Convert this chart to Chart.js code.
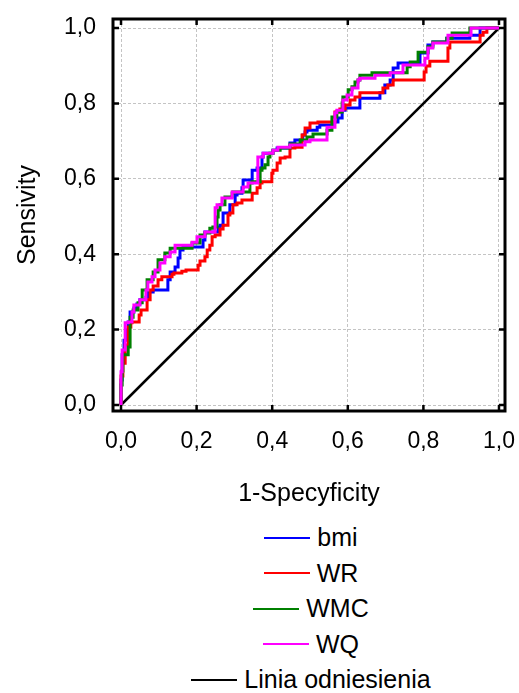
<!DOCTYPE html>
<html lang="pl">
<head>
  <meta charset="UTF-8" />
  <title>Krzywe ROC</title>
  <script src="https://cdn.jsdelivr.net/npm/chart.js"></script>
  <style>
    body { margin: 0; background: #fff; font-family: "Liberation Sans", Arial, sans-serif; }
    .wrap { position: relative; width: 519px; height: 693px; }
    #legenda { position: absolute; top: 520px; left: 111px; width: 400px; }
    .wiersz { height: 35.5px; display: flex; align-items: center; justify-content: center; font-size: 25px; color: #000; }
    .kreska { width: 46px; height: 2px; margin-right: 7px; }
  </style>
</head>
<body>
  <div class="wrap">
    <canvas id="roc" width="519" height="520"></canvas>
    <div id="legenda"></div>
  </div>

  <script>
    // wartości (1-specyficzność, czułość)
    const axisTicks = [0, 0.2, 0.4, 0.6, 0.8, 1.0];

    const bmiX = [0, .003, .008, .013, .019, .024, .034, .042, .050, .066, .071, .085, .098, .124, .130, .143, .151, .156, .164, .175, .217, .222, .257, .262, .270, .275, .288, .302, .307, .320, .323, .328, .347, .360, .373, .376, .402, .413, .447, .460, .481, .487, .492, .519, .526, .561, .574, .585, .593, .598, .632, .685, .698, .712, .720, .733, .746, .791, .812, .825, .862, .878, .923, .931, .950, .958, 1];
    const bmiY = [0, .066, .133, .172, .199, .220, .247, .257, .268, .279, .286, .300, .305, .305, .332, .353, .366, .390, .411, .419, .419, .438, .459, .472, .477, .509, .509, .531, .557, .562, .576, .597, .597, .623, .629, .658, .668, .676, .682, .695, .703, .716, .724, .729, .737, .743, .751, .761, .782, .788, .788, .814, .828, .849, .862, .894, .907, .907, .934, .955, .963, .973, .973, .981, .981, 1, 1];

    const wrX = [0, .005, .011, .019, .026, .029, .048, .053, .069, .077, .085, .098, .108, .135, .140, .161, .172, .204, .209, .222, .228, .235, .241, .249, .262, .270, .283, .288, .296, .307, .320, .347, .360, .368, .373, .399, .402, .413, .421, .434, .447, .460, .479, .487, .500, .521, .566, .579, .593, .606, .619, .632, .646, .693, .706, .720, .743, .802, .807, .817, .825, .865, .870, .873, .950, .958, .968, .979, 1];
    const wrY = [0, .077, .111, .159, .207, .218, .220, .239, .252, .279, .305, .316, .332, .340, .347, .350, .355, .358, .371, .382, .393, .411, .424, .446, .451, .467, .477, .504, .509, .531, .536, .544, .562, .576, .589, .592, .615, .623, .642, .655, .658, .682, .684, .716, .735, .748, .751, .777, .785, .796, .809, .817, .828, .828, .841, .849, .862, .862, .883, .899, .912, .912, .947, .963, .963, .981, .989, 1, 1];

    const wmcX = [0, .003, .005, .019, .024, .032, .045, .056, .069, .085, .098, .116, .130, .151, .188, .209, .222, .235, .243, .254, .257, .262, .275, .294, .296, .341, .347, .368, .373, .381, .389, .394, .402, .421, .447, .474, .492, .508, .526, .545, .558, .571, .585, .587, .601, .611, .619, .627, .632, .664, .757, .765, .786, .812, .825, .862, .876, .923, .929, 1];
    const wmcY = [0, .053, .090, .133, .154, .233, .252, .271, .305, .332, .353, .385, .403, .416, .416, .430, .451, .456, .469, .472, .499, .517, .531, .552, .562, .565, .589, .592, .623, .629, .637, .658, .668, .676, .682, .692, .703, .711, .719, .719, .729, .764, .777, .801, .817, .836, .844, .857, .862, .875, .881, .897, .910, .936, .950, .963, .973, .987, 1, 1];

    const wqX = [0, .003, .011, .019, .029, .034, .050, .066, .071, .082, .090, .103, .116, .130, .143, .151, .188, .201, .222, .249, .254, .267, .294, .323, .336, .362, .376, .402, .415, .447, .487, .500, .545, .566, .571, .587, .598, .611, .627, .632, .672, .712, .746, .757, .804, .812, .825, .865, .878, .926, .939, 1];
    const wqY = [0, .088, .146, .218, .220, .247, .265, .279, .305, .326, .340, .358, .377, .393, .406, .424, .424, .432, .446, .459, .523, .531, .549, .565, .578, .589, .658, .668, .676, .684, .690, .698, .703, .737, .775, .782, .809, .822, .841, .862, .867, .875, .881, .902, .902, .920, .947, .960, .981, .981, 1, 1];

    const refX = [0, 1];
    const refY = [0, 1];

    function punkty(xs, ys) {
      return xs.map((x, i) => ({ x: x, y: ys[i] }));
    }

    function przecinek(v) {
      return Number(v).toFixed(1).replace(".", ",");
    }

    // stałe rozmiary osi, bez dodatkowego marginesu na etykiety skrajne
    function bezMarginesu(s) {
      s.paddingLeft = 0;
      s.paddingRight = 0;
      s.paddingTop = 0;
      s.paddingBottom = 0;
    }

    Chart.defaults.font.family = "'Liberation Sans', Arial, sans-serif";
    Chart.defaults.color = "#000";

    // ramka wykresu i krótkie kreski podziałki do środka
    const ramka = {
      id: "ramka",
      afterDraw(chart) {
        const { ctx, chartArea: a, scales } = chart;
        ctx.save();
        ctx.strokeStyle = "#000";
        ctx.lineWidth = 3;
        ctx.strokeRect(a.left, a.top, a.right - a.left, a.bottom - a.top);
        ctx.lineWidth = 2.5;
        ctx.beginPath();
        scales.x.ticks.forEach((t) => {
          const px = scales.x.getPixelForValue(t.value);
          ctx.moveTo(px, a.bottom); ctx.lineTo(px, a.bottom - 6);
          ctx.moveTo(px, a.top); ctx.lineTo(px, a.top + 6);
        });
        scales.y.ticks.forEach((t) => {
          const py = scales.y.getPixelForValue(t.value);
          ctx.moveTo(a.left, py); ctx.lineTo(a.left + 6, py);
          ctx.moveTo(a.right, py); ctx.lineTo(a.right - 6, py);
        });
        ctx.stroke();
        ctx.restore();
      }
    };

    const siatka = {
      color: "#c4c4c4",
      lineWidth: 1,
      drawTicks: false
    };

    const roc = new Chart(document.getElementById("roc"), {
      type: "line",
      data: {
        datasets: [
          { label: "bmi", data: punkty(bmiX, bmiY), borderColor: "#0000ff", borderWidth: 3, stepped: "after", order: 3 },
          { label: "WR", data: punkty(wrX, wrY), borderColor: "#ff0000", borderWidth: 3, stepped: "after", order: 2 },
          { label: "WMC", data: punkty(wmcX, wmcY), borderColor: "#008000", borderWidth: 3, stepped: "after", order: 1 },
          { label: "WQ", data: punkty(wqX, wqY), borderColor: "#ff00ff", borderWidth: 3, stepped: "after", order: 0 },
          { label: "Linia odniesienia", data: punkty(refX, refY), borderColor: "#000000", borderWidth: 2.5, order: 4 }
        ]
      },
      options: {
        responsive: false,
        animation: false,
        elements: { point: { radius: 0, hoverRadius: 0 } },
        layout: { padding: { top: 19, right: 14, left: 0, bottom: 0 } },
        plugins: { legend: { display: false }, tooltip: { enabled: false } },
        scales: {
          x: {
            type: "linear",
            min: -0.0212,
            max: 1.0159,
            afterBuildTicks: (s) => { s.ticks = axisTicks.map((v) => ({ value: v })); },
            afterFit: (s) => { s.height = 109; bezMarginesu(s); },
            grid: siatka,
            border: { display: false, dash: [3, 2] },
            ticks: { padding: 17, font: { size: 23 }, callback: przecinek },
            title: { display: true, text: "1-Specyficity", font: { size: 25 }, padding: { top: 0, bottom: 11 } }
          },
          y: {
            type: "linear",
            min: -0.0159,
            max: 1.0239,
            afterBuildTicks: (s) => { s.ticks = axisTicks.map((v) => ({ value: v })); },
            afterFit: (s) => { s.width = 113; bezMarginesu(s); },
            grid: siatka,
            border: { display: false, dash: [3, 2] },
            ticks: { padding: 17, font: { size: 23 }, callback: przecinek },
            title: { display: true, text: "Sensivity", font: { size: 25 }, padding: { top: 13, bottom: 0 } }
          }
        }
      },
      plugins: [ramka]
    });

    // legenda pod wykresem, jedna pozycja w wierszu
    const legenda = document.getElementById("legenda");
    roc.data.datasets.forEach((ds) => {
      const w = document.createElement("div");
      w.className = "wiersz";
      const k = document.createElement("span");
      k.className = "kreska";
      k.style.background = ds.borderColor;
      const t = document.createElement("span");
      t.textContent = ds.label;
      w.appendChild(k);
      w.appendChild(t);
      legenda.appendChild(w);
    });
  </script>
</body>
</html>
